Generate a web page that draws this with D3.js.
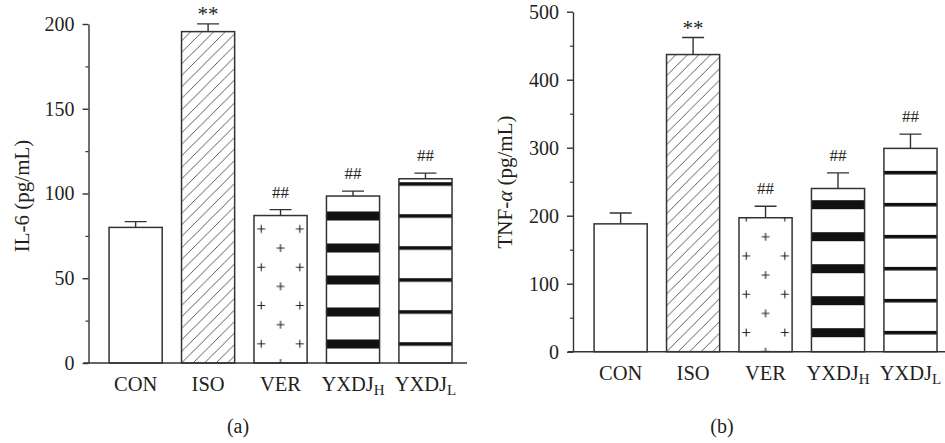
<!DOCTYPE html>
<html>
<head>
<meta charset="utf-8">
<script src="https://cdn.jsdelivr.net/npm/d3@7"></script>
<style>
  html, body { margin: 0; padding: 0; background: #fff; }
  svg text { font-family: "Liberation Serif", "DejaVu Serif", serif; fill: #231f20; }
</style>
</head>
<body>
<svg id="fig" width="945" height="443"></svg>
<script>
// groups and fills shared by both panels
const groups = ["CON", "ISO", "VER", "YXDJ_H", "YXDJ_L"];
const fills = ["plain", "hatch", "plus", "thick", "thin"];

// (a) IL-6
const il6Mean = [80, 195.5, 87, 98.5, 108.7];
const il6Err = [3.4, 4.6, 3.5, 2.9, 3.3];
const il6Sig = ["", "**", "##", "##", "##"];
const il6Ticks = [0, 50, 100, 150, 200];
const il6Minor = [25, 75, 125, 175];

// (b) TNF-alpha
const tnfMean = [188, 437, 197, 240, 299];
const tnfErr = [16, 25, 17, 23, 21];
const tnfSig = ["", "**", "##", "##", "##"];
const tnfTicks = [0, 100, 200, 300, 400, 500];
const tnfMinor = [50, 150, 250, 350, 450];

var ink = "#333";
var svg = d3.select("#fig");
var defs = svg.append("defs");

function drawPanel(cfg) {
  var x = d3.scaleBand()
    .domain(groups)
    .range(cfg.xRange)
    .paddingInner(0.267)
    .paddingOuter(0.1335);
  var y = d3.scaleLinear()
    .domain([0, cfg.max])
    .range([cfg.base, cfg.top]);

  var g = svg.append("g");

  // patterns for this panel (aligned on bar centre / baseline)
  groups.forEach(function(k, i) {
    var id = cfg.key + "_p" + i;
    var cx = x(k) + x.bandwidth() / 2;
    if (fills[i] == "hatch") {
      var p = defs.append("pattern").attr("id", id)
        .attr("patternUnits", "userSpaceOnUse")
        .attr("width", 11.5).attr("height", 11.5)
        .attr("patternTransform", "translate(" + x(k) + "," + cfg.base + ")");
      p.append("path")
        .attr("d", "M-2,13.5 L13.5,-2")
        .attr("stroke", ink).attr("stroke-width", 0.8);
    } else if (fills[i] == "plus") {
      var p = defs.append("pattern").attr("id", id)
        .attr("patternUnits", "userSpaceOnUse")
        .attr("width", 38.6).attr("height", 38.3)
        .attr("patternTransform", "translate(" + cx + "," + cfg.base + ")");
      var pts = [[0, 0], [38.6, 0], [0, 38.3], [38.6, 38.3], [19.3, 19.15]];
      pts.forEach(function(q) {
        p.append("path")
          .attr("d", "M" + (q[0] - 4) + "," + q[1] + "h8M" + q[0] + "," + (q[1] - 4) + "v8")
          .attr("stroke", "#222").attr("stroke-width", 1.1).attr("fill", "none");
      });
    } else if (fills[i] == "thick" || fills[i] == "thin") {
      var h = fills[i] == "thick" ? 9 : 3.6;
      var p = defs.append("pattern").attr("id", id)
        .attr("patternUnits", "userSpaceOnUse")
        .attr("width", 200).attr("height", 32)
        .attr("patternTransform", "translate(0," + (cfg.base - 19 - h / 2) + ")");
      p.append("rect").attr("x", 0).attr("y", 0)
        .attr("width", 200).attr("height", h).attr("fill", "#111");
    }
  });

  // error bars (upper only)
  var means = cfg.mean, errs = cfg.err;
  g.selectAll(".err").data(groups).enter().append("path")
    .attr("class", "err")
    .attr("fill", "none").attr("stroke", ink).attr("stroke-width", 1.4)
    .attr("d", function(d, i) {
      var cx = x(d) + x.bandwidth() / 2;
      var yt = y(means[i] + errs[i]);
      return "M" + cx + "," + y(means[i]) + "V" + yt + "M" + (cx - 11) + "," + yt + "H" + (cx + 11);
    });

  // bars
  g.selectAll(".bar").data(groups).enter().append("rect")
    .attr("class", "bar")
    .attr("x", function(d) { return x(d); })
    .attr("y", function(d, i) { return y(means[i]); })
    .attr("width", x.bandwidth())
    .attr("height", function(d, i) { return y(0) - y(means[i]); })
    .attr("fill", "#fff");
  g.selectAll(".barp").data(groups).enter().append("rect")
    .attr("class", "barp")
    .attr("x", function(d) { return x(d); })
    .attr("y", function(d, i) { return y(means[i]); })
    .attr("width", x.bandwidth())
    .attr("height", function(d, i) { return y(0) - y(means[i]); })
    .attr("fill", function(d, i) { return fills[i] == "plain" ? "none" : "url(#" + cfg.key + "_p" + i + ")"; })
    .attr("stroke", ink).attr("stroke-width", 1.5);

  // significance marks
  g.selectAll(".sig").data(groups).enter().append("text")
    .attr("class", "sig")
    .attr("x", function(d) { return x(d) + x.bandwidth() / 2; })
    .attr("y", function(d, i) { return y(means[i] + errs[i]) - (cfg.sig[i] == "**" ? 3 : 12); })
    .attr("text-anchor", "middle")
    .attr("font-size", function(d, i) { return cfg.sig[i] == "**" ? 21 : 17; })
    .text(function(d, i) { return cfg.sig[i]; });

  // y axis
  var yAxis = d3.axisLeft(y).tickValues(cfg.ticks).tickSize(6).tickSizeOuter(0).tickPadding(8);
  var ya = g.append("g").attr("transform", "translate(" + cfg.axisX + ",0)").call(yAxis);
  ya.selectAll("path, line").attr("stroke", ink).attr("stroke-width", 1.4);
  ya.selectAll("text").attr("font-size", 20).attr("fill", "#231f20")
    .attr("font-family", "Liberation Serif, DejaVu Serif, serif");
  var ym = g.append("g").attr("transform", "translate(" + cfg.axisX + ",0)")
    .call(d3.axisLeft(y).tickValues(cfg.minor).tickSize(3).tickFormat(""));
  ym.select(".domain").remove();
  ym.selectAll("line").attr("stroke", ink).attr("stroke-width", 1.2);

  // x axis line
  g.append("line")
    .attr("x1", cfg.axisX - 5).attr("x2", cfg.xEnd)
    .attr("y1", y(0)).attr("y2", y(0))
    .attr("stroke", ink).attr("stroke-width", 1.5);

  // category labels
  var lab = g.selectAll(".cat").data(groups).enter().append("text")
    .attr("class", "cat")
    .attr("x", function(d) { return x(d) + x.bandwidth() / 2; })
    .attr("y", cfg.labY)
    .attr("text-anchor", "middle")
    .attr("font-size", 20.5);
  lab.append("tspan").text(function(d) { return d.split("_")[0]; });
  lab.append("tspan")
    .attr("font-size", 15).attr("dy", 4)
    .text(function(d) { return d.split("_")[1] || ""; });

  // y title
  var t = g.append("text")
    .attr("transform", "translate(" + cfg.titleX + "," + cfg.titleY + ") rotate(-90)")
    .attr("text-anchor", "middle")
    .attr("font-size", 21);
  cfg.title.forEach(function(s) {
    t.append("tspan").attr("font-style", s[1] ? "italic" : null).text(s[0]);
  });

  // panel letter
  g.append("text")
    .attr("x", cfg.letterX).attr("y", 433)
    .attr("text-anchor", "middle")
    .attr("font-size", 20)
    .text(cfg.letter);
}

drawPanel({
  key: "a", mean: il6Mean, err: il6Err, sig: il6Sig,
  ticks: il6Ticks, minor: il6Minor, max: 200,
  xRange: [99.4, 461.7], base: 363, top: 24, axisX: 88.5, xEnd: 467,
  labY: 391, titleX: 29, titleY: 196,
  title: [["IL-6 (pg/mL)", false]],
  letter: "(a)", letterX: 238
});

drawPanel({
  key: "b", mean: tnfMean, err: tnfErr, sig: tnfSig,
  ticks: tnfTicks, minor: tnfMinor, max: 500,
  xRange: [584.4, 946.7], base: 351.7, top: 11.7, axisX: 573, xEnd: 945,
  labY: 380, titleX: 512, titleY: 182,
  title: [["TNF-", false], ["α", true], [" (pg/mL)", false]],
  letter: "(b)", letterX: 722
});
</script>
</body>
</html>
